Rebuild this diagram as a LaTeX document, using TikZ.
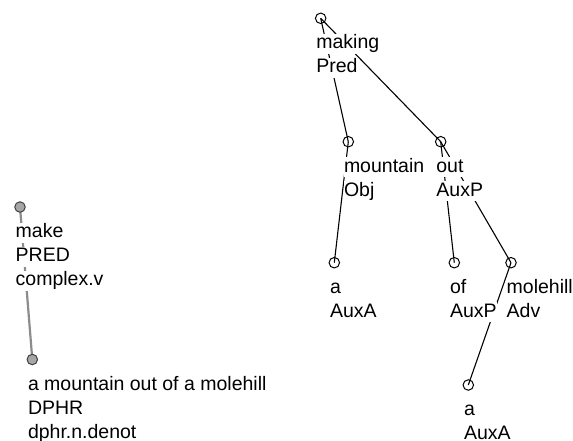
\documentclass[tikz,border=0pt]{standalone}
\usepackage{fontspec}
\setmainfont{Liberation Sans}
\usepackage{tikz}
\usetikzlibrary{calc}
\pgfdeclarelayer{background}
\pgfsetlayers{background,main}
\newcommand{\treefont}{\fontsize{19.5}{24}\selectfont}

\begin{document}
\begin{tikzpicture}[x=1pt,y=-1pt,
    tok/.style={circle,draw=black,line width=1pt,minimum size=10.5pt,inner sep=0pt},
    gtok/.style={tok,draw=black!75,fill=black!35},
    lbl/.style={anchor=base west,fill=white,inner sep=0pt,text height=15pt,text depth=5pt,font=\treefont},
    dep/.style={black,line width=1.1pt},
    gdep/.style={black!45,line width=2.2pt}]
  \useasboundingbox (0,0) rectangle (573,440);
  % tectogrammatical side
  \node[gtok] (make) at (20,207) {};
  \node[gtok] (dphr) at (32.3,359.5) {};
  % analytical tree
  \node[tok] (making) at (320.7,18.3) {};
  \node[tok] (mountain) at (348.3,141.7) {};
  \node[tok] (out) at (440.7,141.7) {};
  \node[tok] (a1) at (334.3,262.7) {};
  \node[tok] (of) at (454.3,262.7) {};
  \node[tok] (molehill) at (511,262.7) {};
  \node[tok] (a2) at (468.3,385) {};
  \begin{pgfonlayer}{background}
    \draw[gdep] (make.center) -- (dphr.center);
    \foreach \p/\c in {making/mountain,making/out,mountain/a1,out/of,out/molehill,molehill/a2}
      \draw[dep] (\p.center) -- (\c.center);
  \end{pgfonlayer}
  % labels, one node per line
  \foreach \n/\txt in {make/{make,PRED,complex.v},
      dphr/{a mountain out of a molehill,DPHR,dphr.n.denot},
      making/{making,Pred},mountain/{mountain,Obj},out/{out,AuxP},
      a1/{a,AuxA},of/{of,AuxP},molehill/{molehill,Adv},a2/{a,AuxA}}
    \foreach \t [count=\i from 0] in \txt
      \node[lbl] (\n-l\i) at ($(\n)+(-4.5,30.5+24*\i)$) {\t};
\end{tikzpicture}
\end{document}
